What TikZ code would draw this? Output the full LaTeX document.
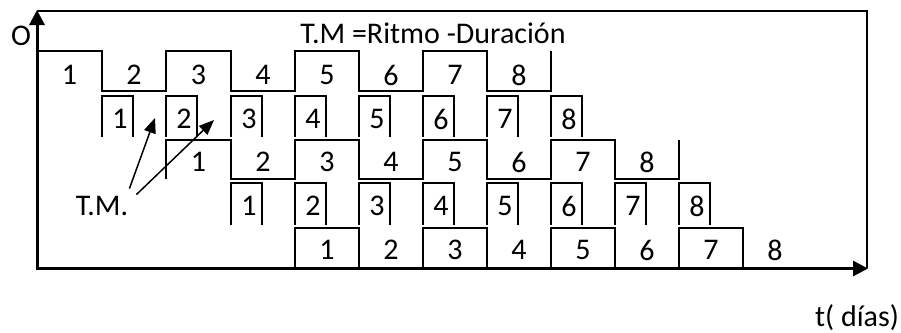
\documentclass[tikz,border=0pt]{standalone}
\usepackage{fontspec}
\setmainfont{Carlito}
\usetikzlibrary{arrows.meta}
\begin{document}
\begin{tikzpicture}[x=1pt,y=-1pt,
  wave/.style={line width=1.8pt, line join=miter},
  lbl/.style={inner sep=0pt, font=\fontsize{30}{34}\selectfont},
  axisline/.style={line width=3pt, -{Triangle[length=15pt,width=15pt]}},
  ptr/.style={line width=1.5pt, -{Triangle[length=15pt,width=12pt]}}]
\useasboundingbox (0,0) rectangle (901,332);
% frame
\draw[line width=2pt] (37,11) -- (867,11) -- (867,268);
% axes
\draw[axisline] (37,269) -- (37,10);
\draw[axisline] (36,268.5) -- (868,268.5);
% row A
\draw[wave] (37,51) -- (102,51) -- (102,91) -- (166,91) -- (166,51) -- (231,51) -- (231,91) -- (295,91) -- (295,51) -- (359,51) -- (359,91) -- (423,91) -- (423,51) -- (487,51) -- (487,91) -- (551,91) -- (551,51);
\foreach \xa/\xb/\n in {37/102/1,102/166/2,166/231/3,231/295/4,295/359/5,359/423/6,423/487/7,487/551/8}
  \node[lbl] (rA\n) at ({(\xa+\xb)/2},75) {\n};
% row B
\foreach \x/\n in {102/1,166/2,231/3,295/4,359/5,423/6,487/7,551/8}{
  \draw[wave] (\x,137) -- (\x,96) -- ++(31,0) -- ++(0,41);
  \node[lbl] (rB\n) at (\x+18,119) {\n};
}
% row C
\draw[wave] (166,179) -- (166,140) -- (231,140) -- (231,179) -- (295,179) -- (295,140) -- (359,140) -- (359,179) -- (423,179) -- (423,140) -- (487,140) -- (487,179) -- (551,179) -- (551,140) -- (615,140) -- (615,179) -- (679,179) -- (679,140);
\foreach \xa/\xb/\n in {166/231/1,231/295/2,295/359/3,359/423/4,423/487/5,487/551/6,551/615/7,615/679/8}
  \node[lbl] (rC\n) at ({(\xa+\xb)/2},162) {\n};
% row D
\foreach \x/\n in {231/1,295/2,359/3,423/4,487/5,551/6,615/7,679/8}{
  \draw[wave] (\x,225) -- (\x,183) -- ++(31,0) -- ++(0,42);
  \node[lbl] (rD\n) at (\x+18,206) {\n};
}
% row E
\draw[wave] (295,268) -- (295,228) -- (359,228) -- (359,268) -- (423,268) -- (423,228) -- (487,228) -- (487,268) -- (551,268) -- (551,228) -- (615,228) -- (615,268) -- (679,268) -- (679,228) -- (743,228) -- (743,268);
\foreach \xa/\xb/\n in {295/359/1,359/423/2,423/487/3,487/551/4,551/615/5,615/679/6,679/743/7,743/807/8}
  \node[lbl] (rE\n) at ({(\xa+\xb)/2},250) {\n};
% texts
\node[lbl, anchor=base] (ylab) at (21,45) {O};
\node[lbl, anchor=base] (title) at (433,43) {T.M =Ritmo -Duración};
\node[lbl, anchor=base] (TM) at (102,215) {T.M.};
\node[lbl, anchor=base] (xlab) at (857,326) {t( días)};
% pointers
\coordinate (p1) at (155,118);
\coordinate (p2) at (214,120);
\draw[ptr] ([shift={(1,-7)}]TM.north east) -- (p1);
\draw[ptr] ([shift={(8,-1)}]TM.north east) -- (p2);
\end{tikzpicture}
\end{document}
